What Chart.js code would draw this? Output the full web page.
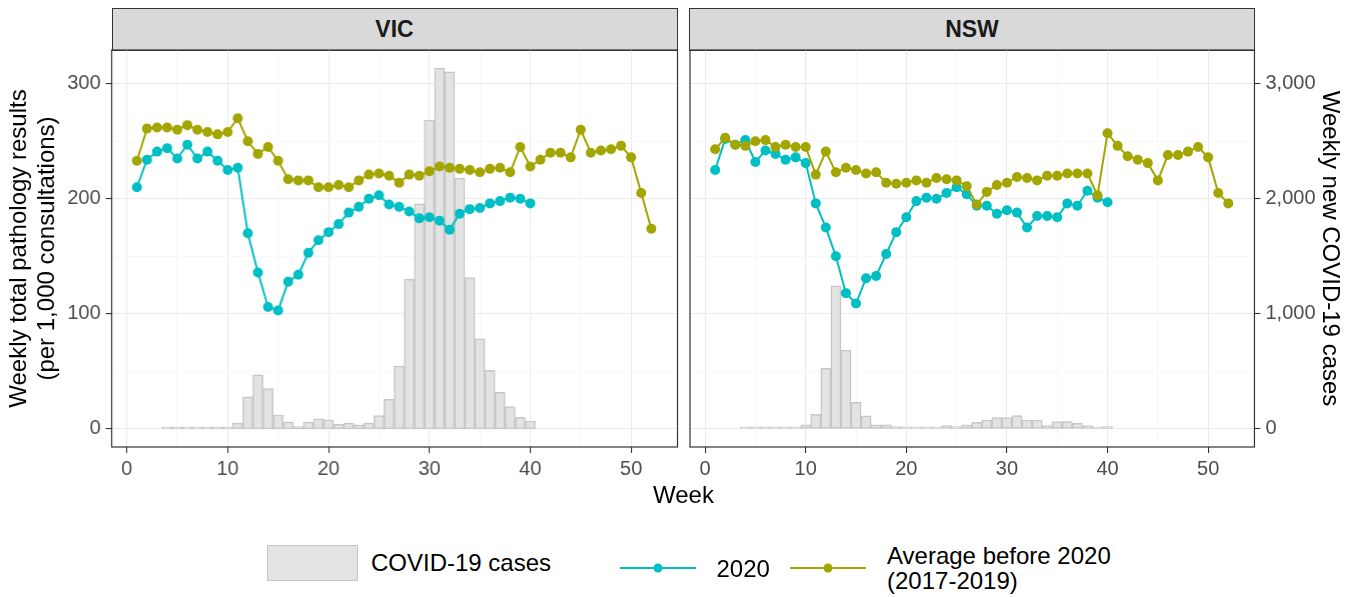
<!DOCTYPE html>
<html>
<head>
<meta charset="utf-8">
<script src="https://cdn.jsdelivr.net/npm/chart.js@4.4.1/dist/chart.umd.min.js"></script>
<style>
  html, body { margin: 0; padding: 0; background: #fff; }
  body {
    width: 1357px; height: 597px; position: relative; overflow: hidden;
    font-family: "Liberation Sans", Arial, sans-serif; color: #000;
  }
  canvas { position: absolute; }
  .strip {
    position: absolute; box-sizing: border-box; top: 8px; height: 43px;
    background: #d9d9d9; border: 1.2px solid #333;
    display: flex; align-items: center; justify-content: center;
    font-weight: bold; font-size: 23px; color: #1a1a1a;
  }
  .txt { position: absolute; font-size: 24px; line-height: 28px; white-space: nowrap; }
  .key { position: absolute; }
</style>
</head>
<body>
<div class="strip" style="left:111.5px; width:566px;">VIC</div>
<div class="strip" style="left:689px; width:566px;">NSW</div>
<canvas id="vic" width="700" height="520"></canvas>
<canvas id="nsw" width="700" height="520"></canvas>

<div class="txt" style="left:653px; top:481px;">Week</div>

<div class="key" style="left:267px; top:544.5px; width:91px; height:36px; box-sizing:border-box; background:#e3e3e3; border:1.5px solid #c6c6c6;"></div>
<div class="txt" style="left:371px; top:549px;">COVID-19 cases</div>
<svg class="key" style="left:620px; top:558px;" width="76" height="20">
  <line x1="0" y1="10" x2="76" y2="10" stroke="#00BFC4" stroke-width="2"/>
  <circle cx="38" cy="10" r="4.5" fill="#00BFC4"/>
</svg>
<div class="txt" style="left:716.5px; top:554.5px;">2020</div>
<svg class="key" style="left:790px; top:558px;" width="76" height="20">
  <line x1="0" y1="10" x2="76" y2="10" stroke="#A3A500" stroke-width="2"/>
  <circle cx="38" cy="10" r="4.5" fill="#A3A500"/>
</svg>
<div class="txt" style="left:887px; top:543px; line-height:25px;">Average before 2020<br>(2017-2019)</div>

<script>
// weekly values, index 0 = week 1
const vic2020 = [210,234,241,244,235,247,235,241,233,225,227,170,136,106,103,128,134,153,164,171,
                 178,188,193,200,203,195,193,189,183,184,181,173,187,191,192,196,198,201,200,196];
const vicAvg = [233,261,262,262,260,264,260,258,256,258,270,250,239,245,233,217,216,216,210,210,
                212,210,216,221,222,220,214,221,220,224,228,227,226,225,223,226,227,223,245,228,
                234,240,240,236,260,240,242,243,246,236,205,174];
const vicCases = [null,null,null,3,5,4,3,6,8,12,50,280,470,350,120,60,20,60,87,80,
                  40,50,35,50,115,257,546,1300,1957,2685,3136,3104,2179,1315,783,509,318,194,101,69];

const nsw2020 = [225,252,247,251,232,242,239,234,236,231,196,175,150,118,109,131,133,152,171,184,
                 198,201,200,205,210,204,194,194,187,190,188,175,185,185,184,196,194,207,201,197];
const nswAvg = [243,253,247,246,250,251,245,247,245,245,221,241,223,227,225,222,223,214,213,214,
                216,214,218,217,216,211,195,206,212,214,219,218,216,220,220,222,222,222,203,257,
                246,237,234,231,216,238,238,241,245,236,205,196];
const nswCases = [null,null,null,2,2,2,3,3,5,35,127,526,1243,685,231,113,35,35,20,17,
                  12,12,12,29,20,35,58,78,98,98,116,78,78,29,64,64,49,29,14,20];

const xTicks = [0, 5, 10, 15, 20, 25, 30, 35, 40, 45, 50];
const leftTicks = [0, 50, 100, 150, 200, 250, 300];
const rightTicks = [0, 1000, 2000, 3000];

const CYAN = '#00BFC4';
const OLIVE = '#A3A500';
const FONT = "'Liberation Sans', Arial, sans-serif";
Chart.defaults.font.family = FONT;

const toPoints = arr => arr.map((v, i) => ({ x: i + 1, y: v })).filter(p => p.y != null);
const setTicks = vals => scale => { scale.ticks = vals.map(v => ({ value: v })); };

// ggplot-ish panel border on top of everything
const panelBorder = {
  id: 'panelBorder',
  afterDraw(chart) {
    const { ctx, chartArea: a } = chart;
    ctx.save();
    ctx.strokeStyle = '#333';
    ctx.lineWidth = 1.2;
    ctx.strokeRect(a.left, a.top, a.right - a.left, a.bottom - a.top);
    ctx.restore();
  }
};

function gridStyle(step) {
  return {
    color: c => (c.tick && c.tick.value % step === 0) ? '#ebebeb' : '#f4f4f4',
    lineWidth: c => (c.tick && c.tick.value % step === 0) ? 1.1 : 0.6,
    tickColor: c => (c.tick && c.tick.value % step === 0) ? '#333' : 'rgba(0,0,0,0)',
    tickWidth: 1.1,
    tickLength: 6,
  };
}

function lineSet(label, values, color, order) {
  return {
    type: 'line',
    label,
    data: toPoints(values),
    yAxisID: 'y',
    borderColor: color,
    backgroundColor: color,
    borderWidth: 2,
    pointRadius: 5,
    pointBorderWidth: 0,
    tension: 0,
    order,
  };
}

function makePanel(id, cases, y2020, yAvg, isLeft) {
  const tickFont = { size: 20 };
  return new Chart(document.getElementById(id), {
    type: 'line',
    data: {
      datasets: [
        lineSet('Average before 2020 (2017-2019)', yAvg, OLIVE, 1),
        lineSet('2020', y2020, CYAN, 2),
        {
          type: 'bar',
          label: 'COVID-19 cases',
          data: toPoints(cases),
          yAxisID: 'y2',
          backgroundColor: '#e3e3e3',
          borderColor: '#c6c6c6',
          borderWidth: 1.5,
          borderSkipped: false,
          barPercentage: 1,
          categoryPercentage: 1,
          minBarLength: 2,
          order: 3,
        },
      ]
    },
    options: {
      responsive: false,
      maintainAspectRatio: false,
      animation: false,
      events: [],
      layout: { padding: 0 },
      plugins: { legend: { display: false }, tooltip: { enabled: false } },
      scales: {
        x: {
          type: 'linear',
          min: -1.5, max: 54.6,
          offset: false,
          afterBuildTicks: setTicks(xTicks),
          grid: { ...gridStyle(10), offset: false },
          border: { display: false },
          ticks: {
            autoSkip: false, maxRotation: 0, padding: 4,
            color: '#4d4d4d', font: tickFont,
            callback: v => (v % 10 === 0 ? String(v) : ''),
          },
        },
        y: {
          position: 'left',
          min: -15.7, max: 329.3,
          afterBuildTicks: setTicks(leftTicks),
          grid: isLeft ? gridStyle(100) : { ...gridStyle(100), drawTicks: false },
          border: { display: false },
          ticks: {
            display: isLeft, padding: 5,
            color: '#4d4d4d', font: tickFont,
            callback: v => (v % 100 === 0 ? String(v) : ''),
          },
          title: {
            display: isLeft,
            text: ['Weekly total pathology results', '(per 1,000 consultations)'],
            color: '#000', font: { size: 24, lineHeight: 1.17 },
            padding: { top: 4, bottom: 1 },
          },
        },
        y2: {
          position: 'right',
          display: !isLeft,
          min: -157, max: 3293,
          afterBuildTicks: setTicks(rightTicks),
          grid: { drawOnChartArea: false, color: '#333', tickColor: '#333', tickWidth: 1.1, tickLength: 6 },
          border: { display: false },
          ticks: {
            padding: 5, color: '#4d4d4d', font: tickFont,
            callback: v => v.toLocaleString('en-US'),
          },
          title: {
            display: true,
            text: 'Weekly new COVID-19 cases',
            color: '#000', font: { size: 24, lineHeight: 1 },
            padding: { top: 2, bottom: -3 },
          },
        },
      },
    },
    plugins: [panelBorder],
  });
}

// move / resize a chart so its plot area lands on the given box of the page
function fit(chart, box) {
  for (let i = 0; i < 3; i++) {
    const a = chart.chartArea;
    chart.resize(chart.width + box.w - (a.right - a.left), chart.height + box.h - (a.bottom - a.top));
  }
  const a = chart.chartArea;
  chart.canvas.style.left = (box.x - a.left) + 'px';
  chart.canvas.style.top = (box.y - a.top) + 'px';
}

const vicChart = makePanel('vic', vicCases, vic2020, vicAvg, true);
const nswChart = makePanel('nsw', nswCases, nsw2020, nswAvg, false);
fit(vicChart, { x: 112, y: 50, w: 565, h: 397 });
fit(nswChart, { x: 689.5, y: 50, w: 564.5, h: 397 });
</script>
</body>
</html>
